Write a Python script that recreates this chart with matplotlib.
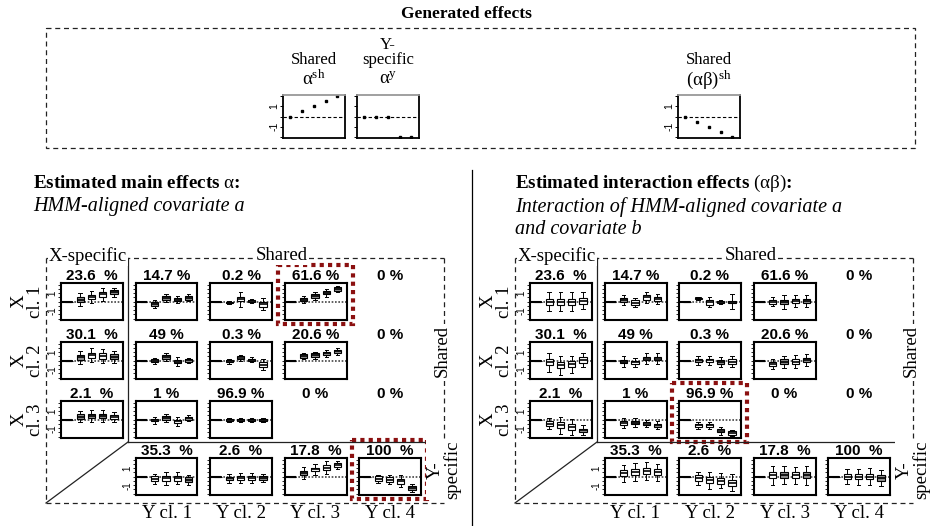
import matplotlib
matplotlib.use("Agg")
import matplotlib.pyplot as plt
from matplotlib.patches import Rectangle

W, H = 932, 526
SERIF = "Liberation Serif"
SANS = "Liberation Sans"

plt.rcParams["font.family"] = SERIF
plt.rcParams["mathtext.fontset"] = "custom"
plt.rcParams["mathtext.rm"] = SERIF
plt.rcParams["mathtext.it"] = SERIF + ":italic"
plt.rcParams["mathtext.bf"] = SERIF + ":bold"

# ---- generated effects (levels 1..5 of covariate a) ----
GEN_LEVELS = [1, 2, 3, 4, 5]
GEN_SHARED_A = [0, 0.5, 1, 1.5, 2]
GEN_YSPEC_A = [0, 0, 0, -2, -2]
GEN_SHARED_AB = [0, -0.5, -1, -1.5, -2]

ROW_NAMES = ["X\ncl. 1", "X\ncl. 2", "X\ncl. 3"]
COL_NAMES = ["Y cl. 1", "Y cl. 2", "Y cl. 3", "Y cl. 4"]

# share (%) per cell: rows X cl.1-3 + Y-specific, cols X-specific + Y cl.1-4
PCT = [[23.6, 14.7, 0.2, 61.6, 0],
       [30.1, 49, 0.3, 20.6, 0],
       [2.1, 1, 96.9, 0, 0],
       [None, 35.3, 2.6, 17.8, 100]]

# cells that hold a boxplot, in the order of the box stats below
CELLS = [(0, 0), (0, 1), (0, 2), (0, 3), (1, 0), (1, 1), (1, 2), (1, 3),
         (2, 0), (2, 1), (2, 2), (3, 1), (3, 2), (3, 3), (3, 4)]

# main effects: median, half box height, half whisker length of levels 2..5
MAIN_MED = [[0.25, 0.55, 0.85, 1.1], [-0.25, 0.45, 0.25, 0.45], [-0.1, 0.3, 0.1, -0.3],
            [0.25, 0.65, 1.05, 1.5], [0.4, 0.65, 0.55, 0.45], [0.0, 0.45, -0.1, 0.05],
            [-0.05, 0.35, 0.1, -0.45], [0.55, 0.65, 0.85, 1.1], [0.35, 0.45, 0.45, 0.35],
            [-0.05, 0.2, -0.2, 0.15], [0, 0, 0, 0], [-0.25, -0.2, -0.2, -0.35],
            [-0.2, -0.15, -0.15, -0.15], [0.45, 0.85, 1.05, 1.35], [-0.25, -0.35, -0.55, -1.3]]
MAIN_HALF = [[0.28, 0.28, 0.28, 0.22], [0.2, 0.22, 0.2, 0.2], [0.1, 0.22, 0.1, 0.3],
             [0.2, 0.2, 0.2, 0.2], [0.3, 0.3, 0.3, 0.3], [0.15, 0.2, 0.2, 0.15],
             [0.15, 0.2, 0.15, 0.3], [0.2, 0.2, 0.2, 0.2], [0.28, 0.28, 0.28, 0.25],
             [0.15, 0.2, 0.2, 0.15], [0.12, 0.12, 0.12, 0.12], [0.28, 0.28, 0.28, 0.28],
             [0.22, 0.28, 0.28, 0.22], [0.28, 0.22, 0.28, 0.22], [0.28, 0.28, 0.32, 0.22]]
MAIN_WHISK = [[0.75, 0.7, 0.75, 0.55], [0.45, 0.5, 0.45, 0.4], [0.2, 0.9, 0.2, 0.7],
              [0.4, 0.45, 0.45, 0.4], [0.8, 0.8, 0.85, 0.7], [0.35, 0.45, 0.5, 0.3],
              [0.3, 0.35, 0.3, 0.7], [0.4, 0.4, 0.45, 0.45], [0.65, 0.7, 0.75, 0.6],
              [0.4, 0.45, 0.5, 0.35], [0.25, 0.25, 0.25, 0.25], [0.6, 0.75, 0.7, 0.6],
              [0.5, 0.55, 0.55, 0.45], [0.75, 0.6, 0.75, 0.5], [0.5, 0.55, 0.7, 0.5]]
MAIN_FILL = ["gwwg", "gggg", "gwgw", "gggg", "gwwg", "gggg", "gwgw", "gggg",
             "gggw", "ggwg", "gggg", "wwwg", "gwwg", "gwww", "wwwg"]
MAIN_HIGHLIGHT = [(0, 3), (3, 4)]

# interaction effects
INT_MED = [[0, 0, 0, 0.1], [0.2, -0.1, 0.5, 0.3], [0.4, -0.05, 0, 0],
           [0, 0, 0.1, 0.1], [-0.2, -0.55, -0.4, 0.1], [-0.1, -0.2, 0.25, 0.25],
           [0.05, 0.05, -0.15, -0.1], [-0.35, -0.1, -0.1, 0.05], [-0.45, -0.65, -0.85, -1.25],
           [-0.35, -0.35, -0.45, -0.65], [-0.65, -0.65, -1.3, -1.55], [0.4, 0.55, 0.65, 0.55],
           [-0.2, -0.4, -0.45, -0.7], [0.15, 0.2, 0.15, 0.15], [0, 0, 0, -0.15]]
INT_HALF = [[0.35, 0.35, 0.35, 0.35], [0.25, 0.25, 0.25, 0.25], [0.05, 0.3, 0.1, 0.1],
            [0.25, 0.25, 0.25, 0.25], [0.35, 0.35, 0.35, 0.35], [0.2, 0.2, 0.2, 0.2],
            [0.2, 0.2, 0.2, 0.3], [0.25, 0.25, 0.25, 0.25], [0.3, 0.35, 0.35, 0.2],
            [0.25, 0.2, 0.2, 0.2], [0.2, 0.2, 0.2, 0.2], [0.35, 0.35, 0.35, 0.35],
            [0.35, 0.35, 0.35, 0.35], [0.35, 0.35, 0.35, 0.35], [0.3, 0.3, 0.3, 0.3]]
INT_WHISK = [[1.1, 1.1, 1.1, 1.0], [0.6, 0.55, 0.7, 0.55], [0.15, 0.6, 0.25, 0.9],
             [0.5, 0.8, 0.7, 0.7], [1.1, 1.1, 1.0, 0.8], [0.6, 0.55, 0.65, 0.6],
             [0.5, 0.5, 0.55, 0.6], [0.6, 0.7, 0.8, 0.7], [0.7, 1.0, 0.95, 0.6],
             [0.6, 0.5, 0.45, 0.5], [0.4, 0.4, 0.45, 0.35], [1.0, 1.05, 1.05, 1.0],
             [0.8, 1.0, 0.9, 1.0], [1.1, 1.1, 1.0, 1.15], [0.9, 0.95, 1.0, 0.9]]
INT_FILL = ["wwww", "gwww", "gwgg", "wgwg", "wwww", "gwww", "gwgw", "wgwg",
            "wwwg", "wgwg", "wwww", "wwww", "wwww", "wgwg", "wwwg"]
INT_HIGHLIGHT = [(2, 2)]

FILL_COLORS = {"w": "white", "g": "#8f8f8f"}
DARKRED = "#8b1010"
DASH = (0, (4, 3))

# layout in pixels
COL_X0, COL_STEP, PANEL_W = 61, 74.5, 62
ROW_Y0, PANEL_H = [283, 342, 401, 458], 37
RIGHT_DX = 469
XLIM = (0.3, 5.8)

fig = plt.figure(figsize=(W / 100, H / 100), dpi=100)
ov = fig.add_axes([0, 0, 1, 1])
ov.set_xlim(0, W)
ov.set_ylim(H, 0)
ov.axis("off")


def px_axes(x0, y0, w, h):
    return fig.add_axes([x0 / W, 1 - (y0 + h) / H, w / W, h / H])


def ylabels(ax, lab_size=7):
    for v in (1, -1):
        ax.annotate(str(v), xy=(0, v), xycoords=("axes fraction", "data"),
                    xytext=(-6, 0), textcoords="offset points", rotation=90,
                    ha="center", va="center", fontsize=lab_size, family=SANS)


# ---- top: generated effects ----
ov.text(466, 14, "Generated effects", ha="center", va="center",
        fontsize=12.5, fontweight="bold")
ov.add_patch(Rectangle((46, 28), 869, 120, fill=False, ls=DASH, lw=0.9, ec="#222222"))


def gen_panel(x0, values, show_labels):
    ax = px_axes(x0, 95, 62, 43)
    ax.axhline(0, color="black", lw=0.8, ls=(0, (3, 2)))
    ax.plot(GEN_LEVELS, values, "s", ms=1.7, color="black")
    ax.set_xlim(0.4, 5.65)
    ax.set_ylim(-2.1, 2.1)
    ax.set_xticks([])
    ax.set_yticks([-2, -1, 0, 1, 2])
    ax.set_yticklabels([])
    ax.tick_params(axis="y", length=2.5, width=0.7)
    for s in ax.spines.values():
        s.set_linewidth(1.3)
    ax.spines["top"].set_color("#999999")
    if show_labels:
        ylabels(ax, 7.5)


gen_panel(283, GEN_SHARED_A, True)
gen_panel(357, GEN_YSPEC_A, False)
gen_panel(678, GEN_SHARED_AB, True)

ov.text(314, 60, "Shared", ha="center", va="center", fontsize=12)
ov.text(314, 79, r"$\mathrm{α^{sh}}$", ha="center", va="center", fontsize=13.5)
ov.text(388, 45, "Y-", ha="center", va="center", fontsize=12)
ov.text(388, 60, "specific", ha="center", va="center", fontsize=12)
ov.text(388, 79, r"$\mathrm{α^{y}}$", ha="center", va="center", fontsize=13.5)
ov.text(709, 60, "Shared", ha="center", va="center", fontsize=12)
ov.text(709, 80, r"$\mathrm{(αβ)^{sh}}$", ha="center", va="center", fontsize=13.5)

# ---- headings ----
ov.plot([472, 472], [170, 526], color="black", lw=0.9)
ov.text(33, 183, r"Estimated main effects $\mathrm{α}$:", ha="left", va="center",
        fontsize=13.8, fontweight="bold")
ov.text(33, 207, "HMM-aligned covariate a", ha="left", va="center",
        fontsize=14.5, style="italic")
ov.text(515, 183, r"Estimated interaction effects $\mathrm{(αβ)}$:", ha="left",
        va="center", fontsize=13.8, fontweight="bold")
ov.text(515, 207, "Interaction of HMM-aligned covariate a", ha="left", va="center",
        fontsize=14.5, style="italic")
ov.text(515, 230, "and covariate b", ha="left", va="center", fontsize=14.5, style="italic")


def box_panel(ax, med, half, whisk, fill):
    stats = [dict(med=0, q1=0, q3=0, whislo=0, whishi=0, fliers=[])]
    for m, h, w in zip(med, half, whisk):
        stats.append(dict(med=m, q1=m - h, q3=m + h, whislo=m - w, whishi=m + w, fliers=[]))
    ax.axhline(0, color="#444444", lw=1.2, ls=(0, (1, 1)), zorder=1)
    ax.hlines(0, XLIM[0], GEN_LEVELS[0] + 0.3, color="black", lw=1.5, zorder=3)
    bp = ax.bxp(stats, positions=GEN_LEVELS, widths=0.65, patch_artist=True,
                showfliers=False, manage_ticks=False, capwidths=0.3,
                boxprops=dict(lw=0.8), whiskerprops=dict(lw=0.7),
                capprops=dict(lw=0.7), medianprops=dict(color="black", lw=1.2))
    bp["boxes"][0].set_facecolor("black")
    for patch, code in zip(bp["boxes"][1:], fill):
        patch.set_facecolor(FILL_COLORS[code])
    ax.set_xlim(*XLIM)
    ax.set_ylim(-2.15, 2.2)
    ax.set_xticks([])
    ax.set_yticks([-2, -1.5, -1, -0.5, 0, 0.5, 1, 1.5, 2])
    ax.set_yticklabels([])
    ax.tick_params(axis="y", length=2, width=0.6)
    for s in ax.spines.values():
        s.set_linewidth(1.5)


def draw_grid(dx, med, half, whisk, fill, highlight):
    L, R, T, B = 46 + dx, 444 + dx, 258, 503
    IX, IY = 128 + dx, 442
    ov.plot([L, L], [T, B], color="#222222", lw=0.9, ls=DASH)
    ov.plot([L, R], [B, B], color="#222222", lw=0.9, ls=DASH)
    ov.plot([R, R], [T, B], color="#222222", lw=0.9, ls=DASH)
    ov.plot([L, R], [T, T], color="#222222", lw=0.9, ls=DASH)
    ov.plot([IX, IX], [T, IY], color="#222222", lw=0.9)
    ov.plot([IX, R], [IY, IY], color="#222222", lw=0.9)
    ov.plot([L, IX], [B, IY], color="#222222", lw=0.9)

    bb = dict(facecolor="white", edgecolor="none", pad=0.5)
    ov.text(L + 42, T - 2, "X-specific", ha="center", va="center", fontsize=13.5, bbox=bb)
    ov.text(282 + dx, T - 2, "Shared", ha="center", va="center", fontsize=13.5, bbox=bb)
    ov.text(R - 2, 351, "Shared", ha="center", va="center", fontsize=13.5, rotation=90, bbox=bb)
    ov.text(R, 470, "Y-\nspecific", ha="center", va="center", fontsize=13.5, rotation=90,
            multialignment="center", linespacing=0.95, bbox=bb)

    for r, name in enumerate(ROW_NAMES):
        ov.text(27 + dx, ROW_Y0[r] + PANEL_H / 2, name, ha="center", va="center",
                fontsize=13.5, rotation=90, multialignment="center", linespacing=0.95)
    for c, name in enumerate(COL_NAMES, start=1):
        ov.text(COL_X0 + dx + c * COL_STEP + PANEL_W / 2, 514, name, ha="center",
                va="center", fontsize=13.5)

    for r, row in enumerate(PCT):
        for c, val in enumerate(row):
            if val is None:
                continue
            sep = "  " if (c == 0 or r == 3) else " "
            ov.text(COL_X0 + dx + c * COL_STEP + PANEL_W / 2, ROW_Y0[r] - 7,
                    f"{val:g}{sep}%", ha="center", va="center", fontsize=11,
                    fontweight="bold", family=SANS)

    for i, (r, c) in enumerate(CELLS):
        x0 = COL_X0 + dx + c * COL_STEP
        ax = px_axes(x0, ROW_Y0[r], PANEL_W, PANEL_H)
        box_panel(ax, med[i], half[i], whisk[i], fill[i])
        if c == 0 or (r == 3 and c == 1):
            ylabels(ax)

    for r, c in highlight:
        x0 = COL_X0 + dx + c * COL_STEP
        ov.add_patch(Rectangle((x0 - 7, ROW_Y0[r] - 18), PANEL_W + 13, PANEL_H + 22,
                               fill=False, ec=DARKRED, lw=3, ls=(0, (1, 1))))


draw_grid(0, MAIN_MED, MAIN_HALF, MAIN_WHISK, MAIN_FILL, MAIN_HIGHLIGHT)
draw_grid(RIGHT_DX, INT_MED, INT_HALF, INT_WHISK, INT_FILL, INT_HIGHLIGHT)

fig.savefig("out.png", dpi=100, facecolor="white")
